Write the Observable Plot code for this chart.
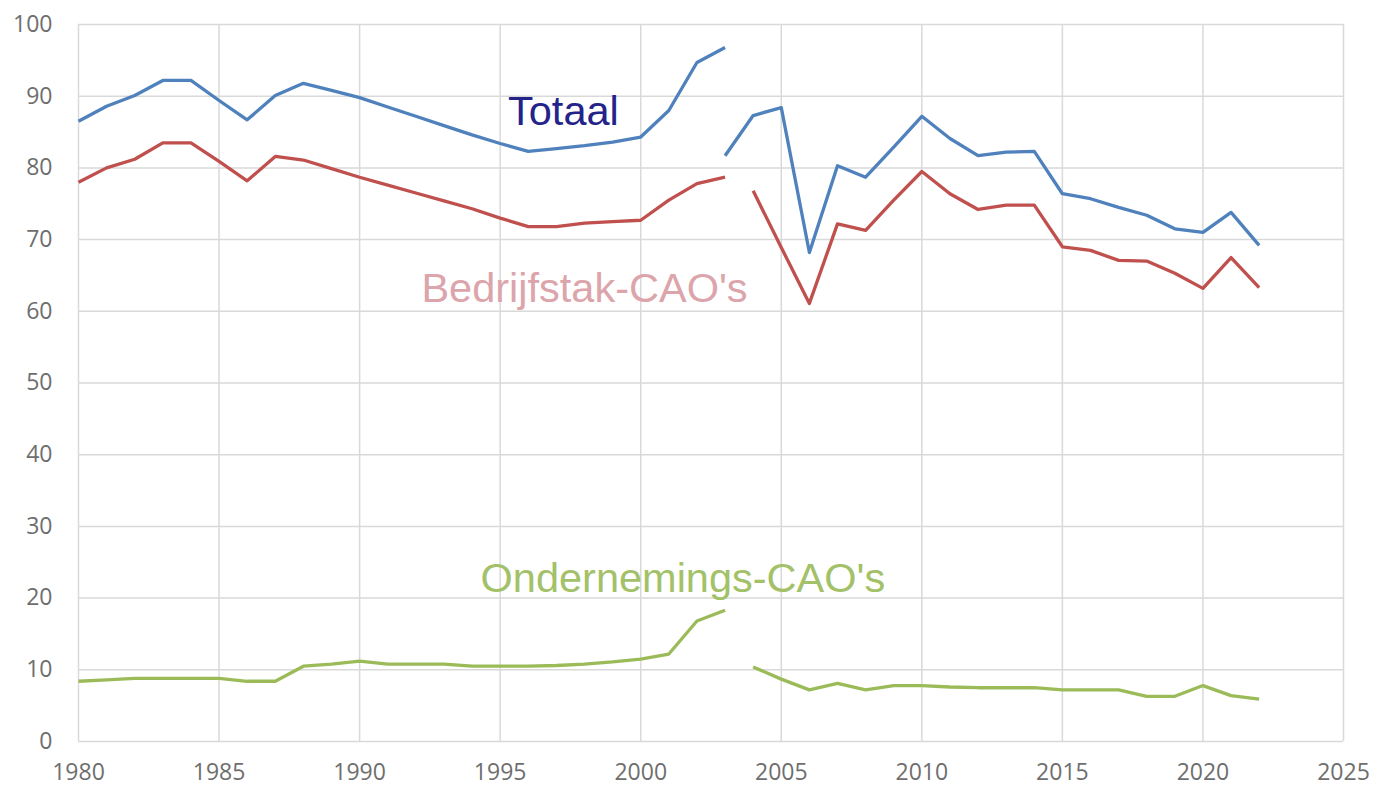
<!DOCTYPE html>
<html>
<head>
<meta charset="utf-8">
<script src="https://cdn.jsdelivr.net/npm/d3@7"></script>
<script src="https://cdn.jsdelivr.net/npm/@observablehq/plot@0.6"></script>
<style>
  html, body { margin: 0; padding: 0; background: #ffffff; }
  #chart { width: 1388px; height: 789px; }
</style>
</head>
<body>
<div id="chart"></div>
<script>
// ---- Data ----
const seriesNames = ["Totaal", "Bedrijfstak-CAO's", "Ondernemings-CAO's"];
const seriesColors = ["#4f81bd", "#c0504d", "#9bbb59"];
const labelColors = ["#23238a", "#dca4ab", "#a3c168"];

// first period (old method), 1980-2003
const yearsOld = [1980, 1981, 1982, 1983, 1984, 1985, 1986, 1987, 1988, 1989, 1990, 1991,
                  1992, 1993, 1994, 1995, 1996, 1997, 1998, 1999, 2000, 2001, 2002, 2003];
const totaalOld = [86.5, 88.6, 90.1, 92.2, 92.2, 89.4, 86.7, 90.1, 91.8, 90.8, 89.8, 88.5,
                   87.2, 85.9, 84.6, 83.4, 82.3, 82.7, 83.1, 83.6, 84.3, 88.0, 94.7, 96.8];
const bedrijfstakOld = [78.0, 80.0, 81.2, 83.5, 83.5, 80.9, 78.2, 81.6, 81.1, 79.9, 78.7, 77.6,
                        76.5, 75.4, 74.3, 73.0, 71.8, 71.8, 72.3, 72.5, 72.7, 75.5, 77.8, 78.7];
const ondernemingsOld = [8.4, 8.6, 8.8, 8.8, 8.8, 8.8, 8.4, 8.4, 10.5, 10.8, 11.2, 10.8,
                         10.8, 10.8, 10.5, 10.5, 10.5, 10.6, 10.8, 11.1, 11.5, 12.2, 16.8, 18.3];

// second period (new method)
const yearsNewTotaal = [2003, 2004, 2005, 2006, 2007, 2008, 2009, 2010, 2011, 2012,
                        2013, 2014, 2015, 2016, 2017, 2018, 2019, 2020, 2021, 2022];
const totaalNew = [81.7, 87.3, 88.4, 68.2, 80.3, 78.7, 82.9, 87.2, 84.1, 81.7,
                   82.2, 82.3, 76.4, 75.7, 74.5, 73.4, 71.5, 71.0, 73.8, 69.2];
const yearsNew = [2004, 2005, 2006, 2007, 2008, 2009, 2010, 2011, 2012, 2013,
                  2014, 2015, 2016, 2017, 2018, 2019, 2020, 2021, 2022];
const bedrijfstakNew = [76.8, 68.9, 61.1, 72.2, 71.3, 75.5, 79.5, 76.4, 74.2, 74.8,
                        74.8, 69.0, 68.5, 67.1, 67.0, 65.3, 63.2, 67.5, 63.3];
const ondernemingsNew = [10.4, 8.7, 7.2, 8.1, 7.2, 7.8, 7.8, 7.6, 7.5, 7.5,
                         7.5, 7.2, 7.2, 7.2, 6.3, 6.3, 7.8, 6.4, 5.9];

// axis ticks
const xTicks = [1980, 1985, 1990, 1995, 2000, 2005, 2010, 2015, 2020, 2025];
const yTicks = [0, 10, 20, 30, 40, 50, 60, 70, 80, 90, 100];

// in-chart series labels (anchor in data units)
const labelYears = [1997.25, 1998.0, 2001.5];
const labelValues = [87.9, 63.2, 22.7];

// ---- Build table ----
function rowsOf(series, period, years, values) {
  return years.map((yr, i) => ({series, key: series + "|" + period, year: yr, value: values[i]}));
}
const rows = [
  ...rowsOf(seriesNames[0], "old", yearsOld, totaalOld),
  ...rowsOf(seriesNames[1], "old", yearsOld, bedrijfstakOld),
  ...rowsOf(seriesNames[2], "old", yearsOld, ondernemingsOld),
  ...rowsOf(seriesNames[0], "new", yearsNewTotaal, totaalNew),
  ...rowsOf(seriesNames[1], "new", yearsNew, bedrijfstakNew),
  ...rowsOf(seriesNames[2], "new", yearsNew, ondernemingsNew)
];
const labels = seriesNames.map((name, i) => ({
  name, year: labelYears[i], value: labelValues[i], color: labelColors[i]
}));

const chart = Plot.plot({
  width: 1388,
  height: 789,
  marginLeft: 78,
  marginRight: 45,
  marginTop: 24,
  marginBottom: 48,
  style: {
    fontFamily: "'Open Sans', 'Liberation Sans', sans-serif",
    fontSize: "22px",
    color: "#6a6a6a",
    background: "#ffffff"
  },
  x: {domain: [1980, 2025], ticks: xTicks, tickFormat: "d", label: null},
  y: {domain: [0, 100], ticks: yTicks, label: null},
  color: {domain: seriesNames, range: seriesColors},
  marks: [
    Plot.gridX(xTicks, {stroke: "#d9d9d9", strokeOpacity: 1, strokeWidth: 1.5}),
    Plot.gridY(yTicks, {stroke: "#d9d9d9", strokeOpacity: 1, strokeWidth: 1.5}),
    Plot.axisX(xTicks, {tickSize: 0, tickPadding: 22, tickFormat: "d", fontSize: 23, fill: "#6e6e6e"}),
    Plot.axisY(yTicks, {tickSize: 0, tickPadding: 26, fontSize: 23, fill: "#6e6e6e"}),
    Plot.line(rows, {
      x: "year", y: "value", z: "key", stroke: "series",
      strokeWidth: 3.3, strokeLinejoin: "round", strokeLinecap: "butt"
    }),
    Plot.text(labels, {
      x: "year", y: "value", text: "name", fill: d => d.color,
      fontSize: 41.5, fontFamily: "'Liberation Sans', Arial, sans-serif",
      textAnchor: "middle", lineAnchor: "middle"
    })
  ]
});
document.getElementById("chart").appendChild(chart);
</script>
</body>
</html>
